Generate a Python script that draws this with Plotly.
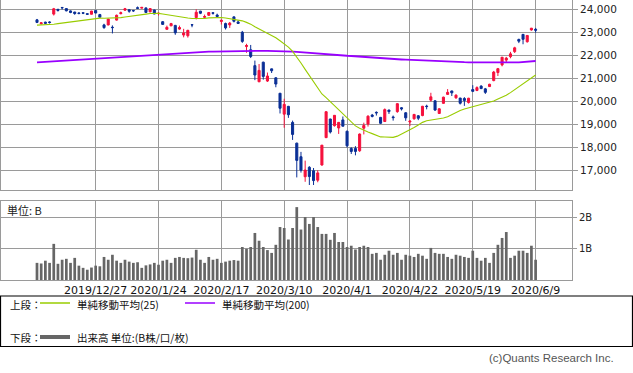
import plotly.graph_objects as go
import pandas as pd

W, H = 633, 373

# ---------------- data (Nikkei 225 daily) ----------------
dates = [
    "2019/12/09", "2019/12/10", "2019/12/11", "2019/12/12", "2019/12/13", "2019/12/16", "2019/12/17", "2019/12/18",
    "2019/12/19", "2019/12/20", "2019/12/23", "2019/12/24", "2019/12/25", "2019/12/26", "2019/12/27", "2019/12/30",
    "2020/01/06", "2020/01/07", "2020/01/08", "2020/01/09", "2020/01/10", "2020/01/14", "2020/01/15", "2020/01/16",
    "2020/01/17", "2020/01/20", "2020/01/21", "2020/01/22", "2020/01/23", "2020/01/24", "2020/01/27", "2020/01/28",
    "2020/01/29", "2020/01/30", "2020/01/31", "2020/02/03", "2020/02/04", "2020/02/05", "2020/02/06", "2020/02/07",
    "2020/02/10", "2020/02/12", "2020/02/13", "2020/02/14", "2020/02/17", "2020/02/18", "2020/02/19", "2020/02/20",
    "2020/02/21", "2020/02/25", "2020/02/26", "2020/02/27", "2020/02/28", "2020/03/02", "2020/03/03", "2020/03/04",
    "2020/03/05", "2020/03/06", "2020/03/09", "2020/03/10", "2020/03/11", "2020/03/12", "2020/03/13", "2020/03/16",
    "2020/03/17", "2020/03/18", "2020/03/19", "2020/03/23", "2020/03/24", "2020/03/25", "2020/03/26", "2020/03/27",
    "2020/03/30", "2020/03/31", "2020/04/01", "2020/04/02", "2020/04/03", "2020/04/06", "2020/04/07", "2020/04/08",
    "2020/04/09", "2020/04/10", "2020/04/13", "2020/04/14", "2020/04/15", "2020/04/16", "2020/04/17", "2020/04/20",
    "2020/04/21", "2020/04/22", "2020/04/23", "2020/04/24", "2020/04/27", "2020/04/28", "2020/04/30", "2020/05/01",
    "2020/05/07", "2020/05/08", "2020/05/11", "2020/05/12", "2020/05/13", "2020/05/14", "2020/05/15", "2020/05/18",
    "2020/05/19", "2020/05/20", "2020/05/21", "2020/05/22", "2020/05/25", "2020/05/26", "2020/05/27", "2020/05/28",
    "2020/05/29", "2020/06/01", "2020/06/02", "2020/06/03", "2020/06/04", "2020/06/05", "2020/06/08", "2020/06/09",
]

opens = [
    23540, 23370, 23440, 23450, 23790, 24000, 24080, 24030, 23930, 23880, 23840, 23850, 23810, 23785, 23950, 23770,
    23320, 23320, 23220, 23530, 23810, 23960, 23980, 23950, 24070, 24050, 24060, 23890, 23970, 23810, 23460, 23130,
    23280, 23300, 23140, 22880, 22850, 23330, 23640, 23920, 23650, 23740, 23850, 23750, 23470, 23380, 23320, 23670,
    23450, 23000, 22380, 22240, 21550, 20850, 21700, 20880, 21410, 21020, 20350, 19440, 19780, 19080, 18180, 17590,
    16720, 17130, 16980, 16570, 17230, 18420, 19230, 18940, 18840, 19190, 18700, 17950, 17950, 17850, 18830, 19010,
    19400, 19520, 19300, 19120, 19620, 19320, 19550, 19720, 19500, 19100, 19240, 19370, 19380, 19790, 20050, 20020,
    19470, 19910, 20300, 20450, 20150, 20140, 20120, 19950, 20510, 20470, 20660, 20540, 20640, 20900, 21250, 21580,
    21790, 21940, 22160, 22690, 22910, 22590, 23100, 23130,
]
highs = [
    23580, 23440, 23460, 23480, 24060, 24010, 24100, 24040, 23950, 23890, 23870, 23860, 23820, 23930, 23970, 23800,
    23370, 23580, 23300, 23770, 23900, 24060, 23990, 23960, 24120, 24100, 24080, 24040, 23980, 23870, 23490, 23290,
    23410, 23320, 23290, 23150, 23110, 23360, 24000, 23930, 23770, 23880, 23870, 23810, 23560, 23420, 23450, 23700,
    23520, 23060, 22500, 22450, 21770, 21620, 21720, 21250, 21420, 21050, 20360, 20110, 19800, 19160, 18200, 17800,
    17420, 17180, 17100, 17000, 18100, 19570, 19240, 19400, 19100, 19340, 18720, 18000, 18050, 18600, 19070, 19390,
    19450, 19560, 19320, 19690, 19630, 19380, 19920, 19750, 19530, 19170, 19450, 19400, 19800, 19850, 20370, 20050,
    19700, 20200, 20530, 20460, 20300, 20150, 20180, 20150, 20700, 20650, 20700, 20580, 20760, 21320, 21450, 21920,
    21930, 22150, 22370, 22720, 22920, 22880, 23190, 23190,
]
lows = [
    23400, 23340, 23360, 23380, 23730, 23900, 23990, 23910, 23830, 23760, 23780, 23790, 23770, 23780, 23830, 23650,
    23150, 23300, 22950, 23510, 23780, 23950, 23850, 23890, 24010, 24040, 23840, 23870, 23790, 23730, 23340, 23110,
    23270, 22890, 23110, 22780, 22770, 23220, 23560, 23790, 23580, 23710, 23770, 23640, 23340, 23120, 23190, 23430,
    23360, 22540, 22110, 21880, 20920, 20830, 20940, 20840, 21230, 20610, 19470, 18850, 19280, 18320, 16690, 16900,
    16500, 16360, 16360, 16480, 17200, 18400, 18600, 18900, 18580, 18910, 17990, 17710, 17650, 17800, 18560, 18900,
    19300, 19380, 19010, 19100, 19450, 19160, 19500, 19600, 19150, 18920, 19200, 19180, 19350, 19650, 19990, 19580,
    19450, 19900, 20280, 20230, 20110, 19860, 19800, 19900, 20400, 20440, 20530, 20320, 20620, 20870, 21100, 21520,
    21680, 21870, 22100, 22530, 22480, 22550, 23070, 22980,
]
closes = [
    23430, 23410, 23391, 23424, 24023, 23952, 24066, 23934, 23864, 23816, 23821, 23830, 23782, 23924, 23837, 23656,
    23204, 23575, 23204, 23739, 23850, 24025, 23916, 23933, 24041, 24083, 23864, 24031, 23795, 23827, 23343, 23216,
    23379, 22977, 23205, 22971, 23084, 23319, 23873, 23827, 23685, 23861, 23827, 23687, 23523, 23193, 23400, 23479,
    23386, 22605, 22426, 21948, 21142, 21344, 21082, 21100, 21329, 20749, 19698, 19867, 19416, 18559, 17431, 17002,
    17011, 16726, 16552, 16887, 18092, 19546, 18664, 19389, 19084, 18917, 18065, 17818, 17820, 18576, 18950, 19353,
    19345, 19498, 19043, 19638, 19550, 19290, 19897, 19669, 19280, 19137, 19429, 19262, 19783, 19771, 20194, 19619,
    19674, 20179, 20390, 20366, 20267, 19914, 20037, 20133, 20433, 20595, 20552, 20388, 20741, 21271, 21419, 21916,
    21877, 22062, 22325, 22613, 22695, 22863, 23178, 23091,
]
# closes of the 24 sessions before the first candle (for the 25-day average)
prior_closes = [
    23251, 23303, 23330, 23391, 23331, 23520, 23319, 23141, 23303, 23416, 23292, 23148,
    23038, 23112, 23292, 23373, 23437, 23409, 23293, 23529, 23379, 23135, 23300, 23354,
]
# 200-day simple moving average
ma200 = [
    21696, 21708, 21721, 21733, 21746, 21758, 21771, 21783, 21795, 21808, 21820, 21833, 21845, 21857, 21870, 21882,
    21893, 21905, 21916, 21928, 21939, 21951, 21962, 21974, 21985, 21997, 22008, 22020, 22031, 22043, 22053, 22062,
    22072, 22081, 22091, 22100, 22110, 22119, 22129, 22138, 22148, 22157, 22162, 22167, 22172, 22177, 22182, 22187,
    22190, 22192, 22193, 22194, 22195, 22195, 22194, 22193, 22192, 22190, 22188, 22186, 22175, 22162, 22148, 22132,
    22115, 22098, 22081, 22064, 22047, 22030, 22013, 22004, 21996, 21988, 21979, 21970, 21955, 21940, 21925, 21910,
    21898, 21886, 21874, 21862, 21850, 21838, 21826, 21817, 21808, 21798, 21789, 21780, 21771, 21761, 21752, 21745,
    21738, 21731, 21724, 21717, 21710, 21703, 21699, 21696, 21693, 21690, 21688, 21685, 21683, 21681, 21680, 21681,
    21683, 21686, 21690, 21696, 21708, 21722, 21737, 21752,
]
# volume in billions of shares
volumes = [
    0.55, 0.53, 0.62, 0.55, 1.16, 0.52, 0.65, 0.68, 0.55, 0.71, 0.46, 0.39, 0.33, 0.40, 0.46, 0.44,
    0.74, 0.65, 0.81, 0.62, 0.55, 0.65, 0.59, 0.55, 0.57, 0.39, 0.47, 0.50, 0.55, 0.49, 0.62, 0.65,
    0.55, 0.71, 0.74, 0.71, 0.70, 0.72, 0.97, 0.65, 0.55, 0.74, 0.65, 0.68, 0.55, 0.59, 0.62, 0.64,
    0.62, 1.06, 1.00, 1.06, 1.51, 1.26, 1.06, 0.96, 0.87, 1.13, 1.70, 1.67, 1.30, 1.67, 2.34, 1.62,
    2.02, 1.80, 2.02, 1.70, 1.48, 1.48, 1.29, 1.51, 1.22, 1.22, 1.06, 1.10, 0.98, 1.06, 1.10, 1.06,
    0.84, 0.87, 0.65, 0.81, 0.94, 0.81, 0.87, 0.65, 0.81, 0.78, 0.74, 0.84, 0.78, 0.68, 1.03, 0.87,
    0.84, 0.84, 0.74, 0.68, 0.81, 0.78, 0.74, 0.71, 0.94, 0.71, 0.62, 0.71, 0.55, 0.87, 1.13, 1.35,
    1.54, 0.71, 0.78, 0.94, 0.94, 0.87, 1.10, 0.65,
]

tick_dates = ["2019/12/27", "2020/01/24", "2020/02/17", "2020/03/10",
              "2020/04/01", "2020/04/22", "2020/05/19", "2020/06/09"]
tick_labels = ["2019/12/27", "2020/1/24", "2020/2/17", "2020/3/10",
               "2020/4/1", "2020/4/22", "2020/5/19", "2020/6/9"]
price_ticks = [17000, 18000, 19000, 20000, 21000, 22000, 23000, 24000]
price_tick_labels = ["17,000", "18,000", "19,000", "20,000", "21,000", "22,000", "23,000", "24,000"]
vol_ticks = [1, 2]
vol_tick_labels = ["1B", "2B"]

# 25-day simple moving average of the closes
ma25 = pd.Series(prior_closes + closes).rolling(25).mean().tolist()[len(prior_closes):]

# ---------------- styling ----------------
RED = "#f5103c"
BLUE = "#0a2f96"
GRID = "#9a9a9a"
MA25_C = "#99cc00"
MA200_C = "#9900ff"
VOL_C = "#666666"
FONT = "DejaVu Sans, Noto Sans CJK JP, sans-serif"
JP_FONT = "Noto Sans CJK JP, DejaVu Sans, sans-serif"

ML, MR = 1, 61  # plot area spans x = 1 .. 572 px
PLOT_W = W - ML - MR


def px2x(px):
    return (px - ML) / PLOT_W


def py2y(py):
    return 1 - py / H


fig = go.Figure()

fig.add_trace(go.Candlestick(
    x=dates, open=opens, high=highs, low=lows, close=closes,
    increasing=dict(line=dict(color=RED, width=1), fillcolor=RED),
    decreasing=dict(line=dict(color=BLUE, width=1), fillcolor=BLUE),
    whiskerwidth=0, xaxis="x", yaxis="y", showlegend=False, hoverinfo="skip",
))
fig.add_trace(go.Scatter(x=dates, y=ma200, mode="lines", line=dict(color=MA200_C, width=1.8),
                         xaxis="x", yaxis="y", showlegend=False, hoverinfo="skip"))
fig.add_trace(go.Scatter(x=dates, y=ma25, mode="lines", line=dict(color=MA25_C, width=1.1),
                         xaxis="x", yaxis="y", showlegend=False, hoverinfo="skip"))
fig.add_trace(go.Bar(x=dates, y=volumes, marker=dict(color=VOL_C, line=dict(width=0)),
                     xaxis="x2", yaxis="y2", showlegend=False, hoverinfo="skip"))

x_range = [-36 / 4.19, (PLOT_W - 36) / 4.19]

axis_common = dict(showline=True, mirror=True, linecolor=GRID, linewidth=1,
                   showgrid=True, gridcolor=GRID, gridwidth=1, zeroline=False)

fig.update_layout(
    width=W, height=H,
    margin=dict(l=ML, r=MR, t=0, b=0),
    paper_bgcolor="white", plot_bgcolor="white",
    font=dict(family=FONT, size=11, color="#222"),
    bargap=0.35, boxgap=0.3,
    xaxis=dict(type="category", categoryorder="array", categoryarray=dates, range=x_range,
               domain=[0, 1], anchor="y", tickvals=tick_dates, showticklabels=False, ticks="",
               rangeslider=dict(visible=False), **axis_common),
    yaxis=dict(domain=[py2y(190), 1], range=[16143, 24404], side="right", anchor="x",
               tickvals=price_ticks, ticktext=price_tick_labels, ticks="outside", ticklen=5,
               tickcolor=GRID, tickfont=dict(size=10.5, color="#222"), **axis_common),
    xaxis2=dict(type="category", categoryorder="array", categoryarray=dates, range=x_range,
                domain=[0, 1], anchor="y2", tickvals=tick_dates, ticktext=tick_labels, ticks="",
                ticklabelstandoff=0, tickfont=dict(size=11, color="#111"), **axis_common),
    yaxis2=dict(domain=[py2y(280), py2y(201)], range=[0, 2.536], side="right", anchor="x2",
                tickvals=vol_ticks, ticktext=vol_tick_labels, ticks="outside", ticklen=4,
                tickcolor=GRID, tickfont=dict(size=10, color="#222"), **axis_common),
)

LEG_FONT = dict(family=JP_FONT, size=10.5, color="#111")
annotations = [
    dict(text="単位: B", x=px2x(5), y=py2y(209.5), xanchor="left", yanchor="middle",
         font=dict(family=JP_FONT, size=11, color="#222")),
    dict(text="上段：", x=px2x(8), y=py2y(304), xanchor="left", yanchor="middle", font=LEG_FONT),
    dict(text="単純移動平均(25)", x=px2x(75), y=py2y(304), xanchor="left", yanchor="middle", font=LEG_FONT),
    dict(text="単純移動平均(200)", x=px2x(220), y=py2y(304), xanchor="left", yanchor="middle", font=LEG_FONT),
    dict(text="下段：", x=px2x(8), y=py2y(337), xanchor="left", yanchor="middle", font=LEG_FONT),
    dict(text="出来高 単位:(B株/口/枚)", x=px2x(75), y=py2y(337), xanchor="left", yanchor="middle", font=LEG_FONT),
    dict(text="(c)Quants Research Inc.", x=px2x(616), y=py2y(358), xanchor="right", yanchor="middle",
         font=dict(family="Liberation Sans, Arial, sans-serif", size=11.5, color="#555")),
]
for a in annotations:
    a.update(xref="paper", yref="paper", showarrow=False)
fig.update_layout(annotations=annotations)

shapes = [
    dict(type="rect", x0=px2x(0.5), x1=px2x(632.5), y0=py2y(296), y1=py2y(346.5),
         line=dict(color="#000", width=1.2), fillcolor="rgba(0,0,0,0)"),
    dict(type="line", x0=px2x(40), x1=px2x(70), y0=py2y(303), y1=py2y(303),
         line=dict(color=MA25_C, width=1.5)),
    dict(type="line", x0=px2x(185), x1=px2x(215), y0=py2y(303), y1=py2y(303),
         line=dict(color=MA200_C, width=1.5)),
    dict(type="line", x0=px2x(40), x1=px2x(70), y0=py2y(337), y1=py2y(337),
         line=dict(color=VOL_C, width=4)),
]
for s in shapes:
    s.update(xref="paper", yref="paper", layer="above")
fig.update_layout(shapes=shapes)

# the page body has a default 8px margin; remove it so the chart sits at the window's corner
fig.write_html("out.html", config={"displayModeBar": False},
               post_script="document.body.style.margin='0';")
